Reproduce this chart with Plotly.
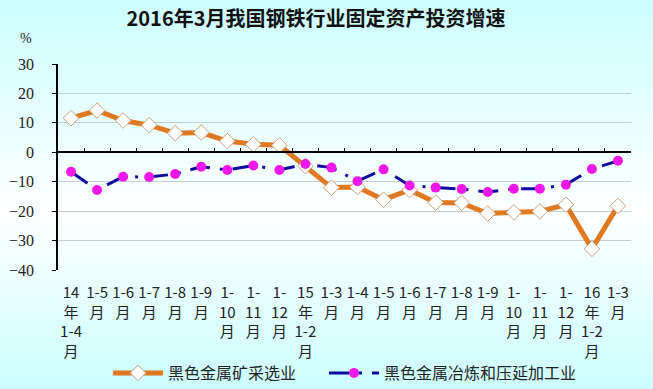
import plotly.graph_objects as go

categories = ["14<br>年<br>1-4<br>月", "1-5<br>月", "1-6<br>月", "1-7<br>月", "1-8<br>月", "1-9<br>月",
              "1-<br>10<br>月", "1-<br>11<br>月", "1-<br>12<br>月", "15<br>年<br>1-2<br>月",
              "1-3<br>月", "1-4<br>月", "1-5<br>月", "1-6<br>月", "1-7<br>月", "1-8<br>月", "1-9<br>月",
              "1-<br>10<br>月", "1-<br>11<br>月", "1-<br>12<br>月", "16<br>年<br>1-2<br>月", "1-3<br>月"]
mining = [11.6, 14.2, 10.8, 9.2, 6.5, 6.7, 3.8, 2.7, 2.4, -4.7, -12.0, -11.8, -16.1, -12.8,
          -17.1, -17.2, -20.8, -20.4, -20.1, -17.8, -32.8, -18.2]
smelting = [-6.6, -12.8, -8.3, -8.4, -7.4, -4.9, -6.0, -4.5, -6.0, -4.0, -5.2, -9.8, -5.8, -11.3,
            -12.0, -12.5, -13.5, -12.4, -12.4, -11.0, -5.7, -2.9]
name_mining = "黑色金属矿采选业"
name_smelting = "黑色金属冶炼和压延加工业"
title_text = "2016年3月我国钢铁行业固定资产投资增速"

W, H = 653, 389
ml, mr, mt, mb = 58, 22, 64, 119
pw, ph = W - ml - mr, H - mt - mb

fig = go.Figure()
idx = list(range(len(categories)))

fig.add_trace(go.Scatter(
    x=idx, y=mining, name=name_mining, mode="lines+markers", legend="legend",
    line=dict(color="#E07A22", width=5),
    marker=dict(symbol="diamond", size=12, color="white", line=dict(color="#C8A07A", width=1)),
))
fig.add_trace(go.Scatter(
    x=idx, y=smelting, name=name_smelting, mode="lines+markers", legend="legend2",
    line=dict(color="#0A0AA0", width=3, dash="20px,10px,3px,10px"),
    marker=dict(symbol="circle", size=10, color="#EE18E8"),
))
# helper trace so the zero-crossing axis is drawn
fig.add_trace(go.Scatter(x=[0], y=[0], xaxis="x2", mode="markers", marker=dict(opacity=0),
                         showlegend=False, hoverinfo="skip"))

# background gradient bands
def lerp(c1, c2, t):
    return tuple(round(a + (b - a) * t) for a, b in zip(c1, c2))

cyan = (204, 255, 255)
white = (255, 255, 255)
nb = 80
mid = 215
for i in range(nb):
    y0 = H * i / nb
    y1 = H * (i + 1) / nb
    yc = (y0 + y1) / 2
    if yc < mid:
        c = lerp(cyan, white, yc / mid)
    else:
        c = lerp(white, cyan, (yc - mid) / (H - mid))
    fig.add_shape(type="rect", xref="paper", yref="paper", layer="below",
                  x0=-ml / pw, x1=(W - ml) / pw,
                  y0=(H - mb - y1) / ph, y1=(H - mb - y0) / ph + 0.002,
                  fillcolor="rgb(%d,%d,%d)" % c, line=dict(width=0))

fig.add_annotation(text="%", xref="paper", yref="paper", x=(26 - ml) / pw, y=(H - mb - 38) / ph,
                   xanchor="center", yanchor="middle",
                   showarrow=False, font=dict(family="Liberation Serif", size=14, color="#222"))

legend_common = dict(orientation="h", xanchor="left", y=(H - mb - 373) / ph, yanchor="middle",
                     font=dict(family="Noto Sans CJK SC", size=16, color="#222"),
                     bgcolor="rgba(0,0,0,0)", itemwidth=50)

fig.update_layout(
    width=W, height=H,
    margin=dict(l=ml, r=mr, t=mt, b=mb, autoexpand=False),
    paper_bgcolor="#CCFFFF", plot_bgcolor="rgba(0,0,0,0)",
    title=dict(text="<b>" + title_text + "</b>", x=316 / W, xanchor="center", y=1 - 19 / H, yanchor="middle",
               font=dict(family="Noto Sans CJK SC", size=20, color="#111")),
    xaxis=dict(range=[-0.5, len(categories) - 0.5], tickmode="array", tickvals=idx, ticktext=categories,
               showgrid=False, zeroline=False, showline=False, ticks="", automargin=False,
               tickfont=dict(family="Noto Sans CJK SC", size=15, color="#222"),
               ticklabelstandoff=12),
    xaxis2=dict(range=[-0.5, len(categories) - 0.5], overlaying="x", anchor="free",
                position=40 / 70, showticklabels=False, showgrid=False, zeroline=False,
                showline=True, linecolor="black", linewidth=1.5, automargin=False,
                tickmode="array", tickvals=[k + 0.5 for k in range(-1, len(categories))],
                ticks="inside", ticklen=4, tickcolor="black", tickwidth=1),
    yaxis=dict(range=[-40, 30], dtick=10, tick0=0, showgrid=True, gridcolor="#C4CCDA", gridwidth=1,
               zeroline=False, showline=True, linecolor="black", linewidth=1.5, automargin=False,
               ticks="outside", ticklen=4, tickcolor="black",
               tickfont=dict(family="Liberation Serif", size=16, color="#222"),
               ticklabelstandoff=15),
    legend=dict(x=(108 - ml) / pw, **legend_common),
    legend2=dict(x=(324 - ml) / pw, **legend_common),
    showlegend=True,
)

fig.write_html("out.html", post_script="document.body.style.margin='0';",
               config={"displayModeBar": False})
